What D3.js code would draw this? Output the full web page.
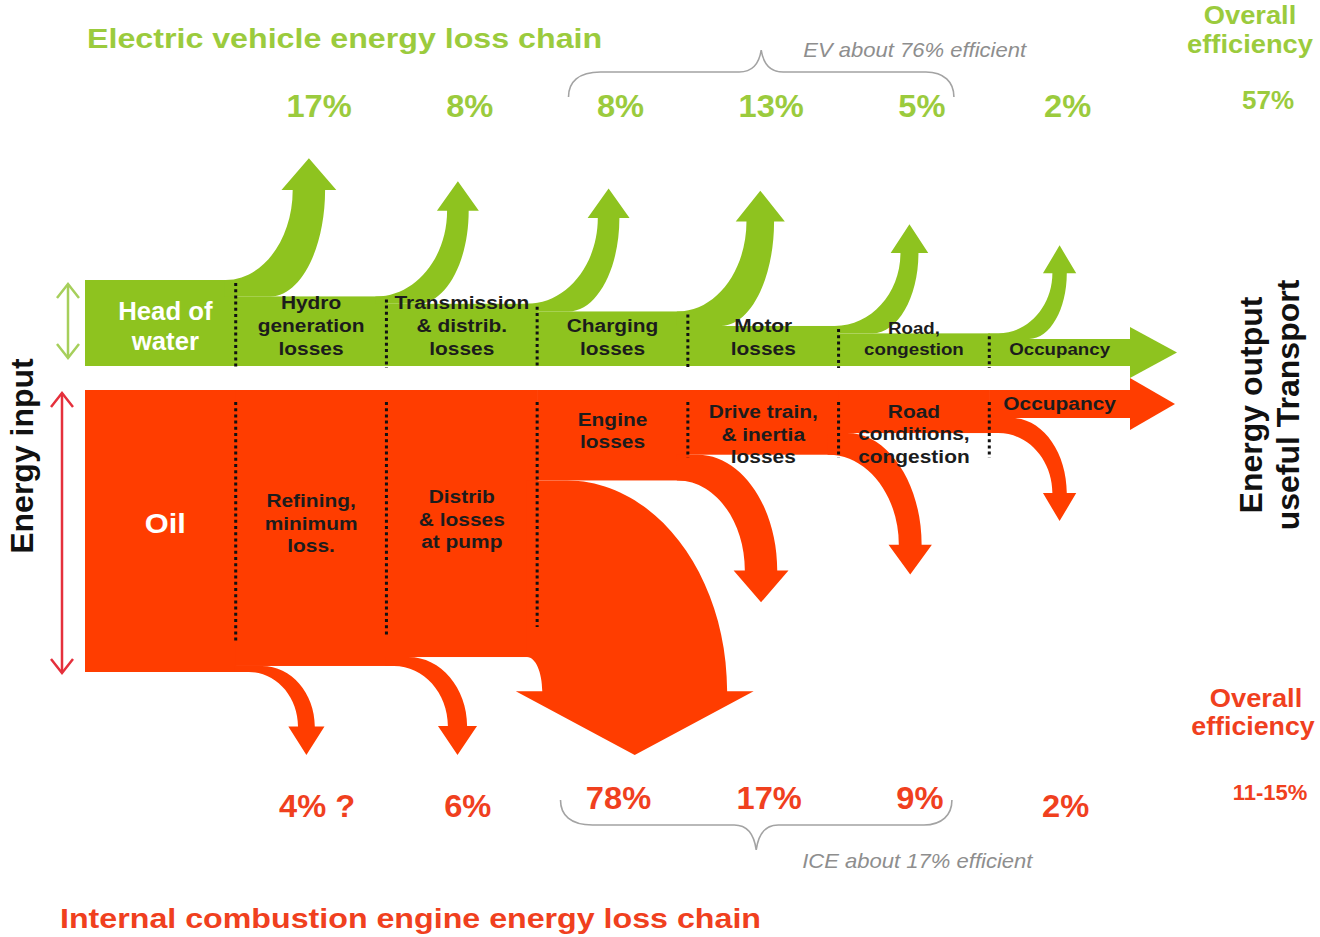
<!DOCTYPE html>
<html><head><meta charset="utf-8">
<script src="https://cdn.jsdelivr.net/npm/d3@7"></script>
<style>
html,body{margin:0;padding:0;background:#fff;}
svg{display:block;}
text{font-family:"Liberation Sans", Arial, Helvetica, sans-serif;}
</style></head><body>
<svg id="chart" width="1320" height="937"></svg>
<script>
// ---------------- data ----------------
const evTitle = "Electric vehicle energy loss chain";
const iceTitle = "Internal combustion engine energy loss chain";
const evStageLabels = [["Head of","water"],["Hydro","generation","losses"],["Transmission","& distrib.","losses"],["Charging","losses"],["Motor","losses"],["Road,","congestion"],["Occupancy"]];
const iceStageLabels = [["Oil"],["Refining,","minimum","loss."],["Distrib","& losses","at pump"],["Engine","losses"],["Drive train,","& inertia","losses"],["Road","conditions,","congestion"],["Occupancy"]];
const evLossPct = [17, 8, 8, 13, 5, 2];
const evLossText = ["17%", "8%", "8%", "13%", "5%", "2%"];
const iceLossPct = [4, 6, 78, 17, 9, 2];
const iceLossText = ["4% ?", "6%", "78%", "17%", "9%", "2%"];
const bracedLosses = [2, 4];           // first and last loss index covered by each brace
const evNote = "EV about 76% efficient";
const iceNote = "ICE about 17% efficient";
const evOverallLabel = ["Overall", "efficiency"];
const iceOverallLabel = ["Overall", "efficiency"];
const evOverall = "57%";
const iceOverall = "11-15%";
const inputLabel = "Energy input";
const outputLabel = ["Energy output", "useful Transport"];

// ---------------- layout / style ----------------
const svg = d3.select("#chart");
const evGreen = "#8ec31f", evText = "#9bcb3d", evArrowLine = "#a6cf5b";
const iceRed = "#ff3d00", iceText = "#f0401e", iceArrowLine = "#e5303c";
const labelInk = "#1c1c1c", braceInk = "#a3a3a3", noteInk = "#8e8e8e";

const nStages = evStageLabels.length;          // 7
const x = d3.scaleLinear().domain([0, nStages]).range([85, 1140]);
const evBottom = 366, evInputH = 86, evFinalH = 27;
const iceTop = 390, iceInputH = 282, iceFinalH = 28;

function retained(losses) {
  const r = [1];
  losses.forEach(p => r.push(r[r.length - 1] * (1 - p / 100)));
  return r;
}
const evRet = retained(evLossPct), iceRet = retained(iceLossPct);
const evEnd = evRet[evRet.length - 1], iceEnd = iceRet[iceRet.length - 1];
const evThick = d3.scalePow().exponent(0.65).domain([0, 1 - evEnd]).range([evFinalH, evInputH]);
const iceThick = d3.scalePow().exponent(0.5).domain([0, 1 - iceEnd]).range([iceFinalH, iceInputH]);
const evH = evRet.map(f => evThick(f - evEnd));
const iceH = iceRet.map(f => iceThick(f - iceEnd));

const lossW = d3.scaleLinear().domain([0, 20, 80]).range([12, 36, 190]);
const reach = d3.scaleLinear().domain([2, 9]).range([60, 90]).clamp(true);

const stageEnd = s => (s < nStages - 1 ? x(s + 1) : x(nStages) - 10);
const stageMid = s => (x(s) + stageEnd(s)) / 2;

function lossArrow(b, pct, eOld, eNew, dir, tipLimit, spread) {
  const w = lossW(pct);
  const c = b + 68 + 0.16 * w;
  const xL = c - w / 2, xR = c + w / 2;
  const hw = 0.6 * w + 8, len = 25 + 0.21 * w;
  let yHB = eOld + dir * reach(pct);
  let tip = yHB + dir * len;
  if (dir > 0 && tip > tipLimit) { tip = tipLimit; yHB = tip - len; }
  if (dir < 0 && tip < tipLimit) { tip = tipLimit; yHB = tip + len; }
  const drop = Math.abs(yHB - eOld);
  const x0 = Math.max(b - 10, xL - 0.9 * drop);
  const x1 = x0 + spread * (xR - x0);
  const xs = Math.min(x0, b) - 1;
  const k = 0.55;
  const p = d3.path();
  p.moveTo(xs, eOld);
  p.lineTo(x0, eOld);
  p.bezierCurveTo(x0 + k * (xL - x0), eOld, xL, yHB + k * (eOld - yHB), xL, yHB);
  p.lineTo(c - hw, yHB);
  p.lineTo(c, tip);
  p.lineTo(c + hw, yHB);
  p.lineTo(xR, yHB);
  p.bezierCurveTo(xR, yHB + k * (eNew - yHB), x1 + k * (xR - x1), eNew, x1, eNew);
  p.lineTo(xs, eNew);
  p.closePath();
  return p.toString();
}

function addText(g, str, tx, ty, o) {
  return g.append("text")
    .attr("transform", `translate(${tx},${ty}) scale(${o.sx || 1},1)`)
    .attr("text-anchor", o.anchor || "middle")
    .attr("font-size", o.size)
    .attr("font-weight", o.weight || "bold")
    .attr("font-style", o.italic ? "italic" : "normal")
    .attr("fill", o.fill)
    .text(str);
}

// ---------------- bands ----------------
const gBands = svg.append("g");
gBands.selectAll("rect.ev").data(evH).join("rect").attr("class", "ev")
  .attr("x", (h, s) => x(s)).attr("y", h => evBottom - h)
  .attr("width", (h, s) => stageEnd(s) - x(s) + 0.6).attr("height", h => h)
  .attr("fill", evGreen);
gBands.selectAll("rect.ice").data(iceH).join("rect").attr("class", "ice")
  .attr("x", (h, s) => x(s)).attr("y", iceTop)
  .attr("width", (h, s) => stageEnd(s) - x(s) + 0.6).attr("height", h => h)
  .attr("fill", iceRed);

// final output arrowheads
const evLastH = evH[evH.length - 1], iceLastH = iceH[iceH.length - 1];
const headBack = stageEnd(nStages - 1);
const evCy = evBottom - evLastH / 2, iceCy = iceTop + iceLastH / 2;
gBands.append("path").attr("fill", evGreen)
  .attr("d", d3.line()([[headBack, evCy - evLastH / 2 - 12], [headBack + 47, evCy], [headBack, evCy + evLastH / 2 + 12]]) + "Z");
gBands.append("path").attr("fill", iceRed)
  .attr("d", d3.line()([[headBack, iceCy - iceLastH / 2 - 12], [headBack + 45, iceCy], [headBack, iceCy + iceLastH / 2 + 12]]) + "Z");

// loss arrows
const gArrows = svg.append("g");
gArrows.selectAll("path.ev").data(evLossPct).join("path").attr("class", "ev")
  .attr("fill", evGreen)
  .attr("d", (p, j) => lossArrow(x(j + 1), p, evBottom - evH[j], evBottom - evH[j + 1], -1, 100, 0.45));
gArrows.selectAll("path.ice").data(iceLossPct).join("path").attr("class", "ice")
  .attr("fill", iceRed)
  .attr("d", (p, j) => lossArrow(x(j + 1), p, iceTop + iceH[j], iceTop + iceH[j + 1], 1, 755, 0.2));

// dotted stage separators
const gDots = svg.append("g").attr("stroke", "#111").attr("stroke-width", 3).attr("stroke-dasharray", "3 3.2");
d3.range(1, nStages).forEach(s => {
  gDots.append("line").attr("x1", x(s)).attr("x2", x(s))
    .attr("y1", evBottom - evH[s - 1] + 3).attr("y2", evBottom + 2);
  gDots.append("line").attr("x1", x(s)).attr("x2", x(s))
    .attr("y1", iceTop + 12).attr("y2", Math.max(iceTop + iceH[s - 1] - 30, iceTop + 68));
});

// ---------------- band labels ----------------
const gLab = svg.append("g");
evStageLabels.forEach((lines, s) => {
  if (s === 0) {
    const cy = evBottom - evH[0] / 2;
    lines.forEach((t, i) => addText(gLab, t, stageMid(0) + 5, cy + (i - (lines.length - 1) / 2) * 30 + 12,
      { size: 25, fill: "#fff", sx: 1.03 }));
    return;
  }
  const fs = evH[s] < 36 ? 17 : 19, lh = fs + 4;
  const last = evBottom - 11;
  lines.forEach((t, i) => addText(gLab, t, stageMid(s), last - (lines.length - 1 - i) * lh,
    { size: fs, fill: labelInk, sx: 1.1 }));
});
iceStageLabels.forEach((lines, s) => {
  if (s === 0) {
    addText(gLab, lines[0], stageMid(0) + 5, iceTop + iceH[0] / 2 + 2, { size: 28, fill: "#fff", sx: 1.1 });
    return;
  }
  const fs = 19, lh = 22.5, n = lines.length;
  let first;
  if (n * lh < iceH[s] - 20) first = iceTop + iceH[s] / 2 - (n - 1) / 2 * lh + 2;
  else first = iceTop + Math.min(28, iceH[s] * 0.5 + 6);
  lines.forEach((t, i) => addText(gLab, t, stageMid(s), first + i * lh, { size: fs, fill: labelInk, sx: 1.1 }));
});

// ---------------- percentages ----------------
const gPct = svg.append("g");
const evPctX = evLossText.map((t, j) => stageMid(j + 1) + 8);
const icePctX = iceLossText.map((t, j) => stageMid(j + 1) + 6);
evLossText.forEach((t, j) => addText(gPct, t, evPctX[j], 117, { size: 32, fill: evText, sx: 1.02 }));
iceLossText.forEach((t, j) => {
  const inBrace = j >= bracedLosses[0] && j <= bracedLosses[1];
  addText(gPct, t, icePctX[j], inBrace ? 809 : 817, { size: 32, fill: iceText, sx: 1.02 });
});

// braces
function brace(xa, xb, yEnd, yLine, yPeak) {
  const xm = (xa + xb) / 2, p = d3.path(), sg = Math.sign(yLine - yEnd);
  p.moveTo(xa, yEnd);
  p.bezierCurveTo(xa, yLine - sg * 10, xa + 10, yLine, xa + 32, yLine);
  p.lineTo(xm - 22, yLine);
  p.bezierCurveTo(xm - 8, yLine, xm - 2, yLine + (yPeak - yLine) * 0.4, xm, yPeak);
  p.bezierCurveTo(xm + 2, yLine + (yPeak - yLine) * 0.4, xm + 8, yLine, xm + 22, yLine);
  p.lineTo(xb - 28, yLine);
  p.bezierCurveTo(xb - 10, yLine, xb, yLine - sg * 10, xb, yEnd);
  return p.toString();
}
const gBr = svg.append("g").attr("fill", "none").attr("stroke", braceInk).attr("stroke-width", 1.6);
const evBa = evPctX[bracedLosses[0]] - 52, evBb = evPctX[bracedLosses[1]] + 32;
const iceBa = icePctX[bracedLosses[0]] - 58, iceBb = icePctX[bracedLosses[1]] + 32;
gBr.append("path").attr("d", brace(evBa, evBb, 97, 72, 50));
gBr.append("path").attr("d", brace(iceBa, iceBb, 800, 825, 850));
addText(svg, evNote, (evBa + evBb) / 2 + 42, 57, { size: 21, weight: "normal", italic: true, anchor: "start", fill: noteInk, sx: 1.05 });
addText(svg, iceNote, (iceBa + iceBb) / 2 + 46, 868, { size: 21, weight: "normal", italic: true, anchor: "start", fill: noteInk, sx: 1.05 });

// ---------------- titles & side texts ----------------
addText(svg, evTitle, 87, 48, { size: 28, fill: evText, anchor: "start", sx: 1.15 });
addText(svg, iceTitle, 60, 928, { size: 28, fill: iceText, anchor: "start", sx: 1.15 });

const overallX = x(nStages) + 110;
addText(svg, evOverallLabel[0], overallX, 24, { size: 26, fill: evText, sx: 1.05 });
addText(svg, evOverallLabel[1], overallX, 53, { size: 26, fill: evText, sx: 1.05 });
addText(svg, evOverall, overallX + 18, 109, { size: 26, fill: evText });
addText(svg, iceOverallLabel[0], overallX + 6, 707, { size: 26, fill: iceText, sx: 1.05 });
addText(svg, iceOverallLabel[1], overallX + 3, 735, { size: 26, fill: iceText, sx: 1.03 });
addText(svg, iceOverall, overallX + 20, 800, { size: 22, fill: iceText });

svg.append("text").attr("transform", `translate(33,${(iceTop + evBottom) / 2 + 78}) rotate(-90)`)
  .attr("text-anchor", "middle").attr("font-size", 32).attr("font-weight", "bold").attr("fill", "#111")
  .text(inputLabel);
outputLabel.forEach((t, i) => {
  svg.append("text").attr("transform", `translate(${1262 + i * 37},405) rotate(-90)`)
    .attr("text-anchor", "middle").attr("font-size", 32).attr("font-weight", "bold").attr("fill", "#111")
    .text(t);
});

// ---------------- input double arrows ----------------
function dblArrow(ax, y1, y2, color) {
  const g = svg.append("g").attr("stroke", color).attr("stroke-width", 2.5).attr("fill", "none");
  g.append("line").attr("x1", ax).attr("x2", ax).attr("y1", y1).attr("y2", y2);
  g.append("path").attr("d", d3.line()([[ax - 11, y1 + 14], [ax, y1], [ax + 11, y1 + 14]]));
  g.append("path").attr("d", d3.line()([[ax - 11, y2 - 14], [ax, y2], [ax + 11, y2 - 14]]));
}
dblArrow(x(0) - 17, evBottom - evH[0] + 4, evBottom - 8, evArrowLine);
dblArrow(x(0) - 23, iceTop + 3, iceTop + iceH[0] + 1, iceArrowLine);
</script>
</body></html>
